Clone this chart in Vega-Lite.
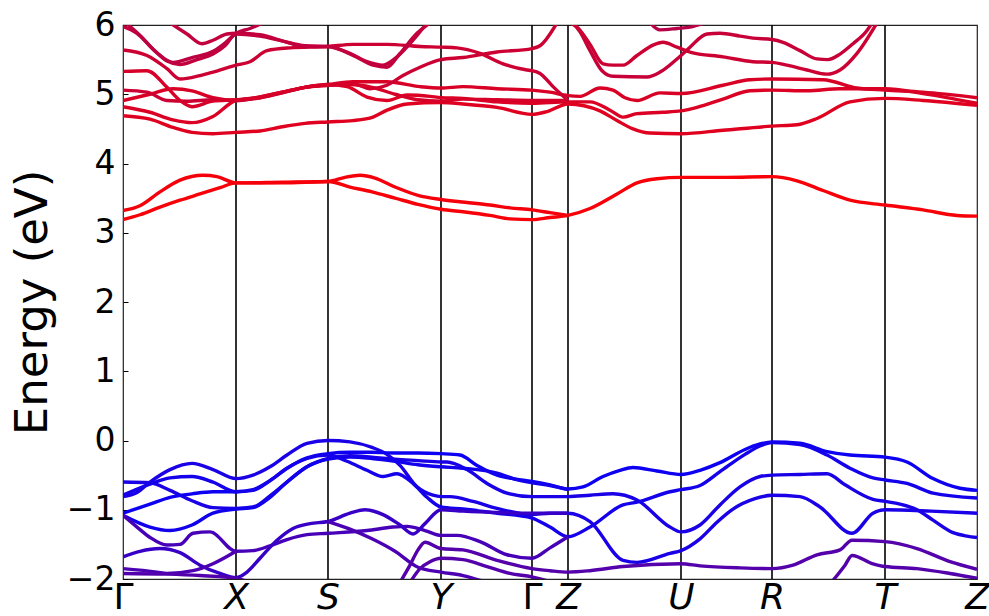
{
  "$schema": "https://vega.github.io/schema/vega-lite/v6.json",
  "width": 854,
  "height": 554,
  "autosize": {"type": "none"},
  "padding": {"left": 123, "top": 25, "right": 12, "bottom": 37},
  "background": "white",
  "config": {
    "view": {"stroke": "#222222", "strokeWidth": 1.2},
    "font": "DejaVu Sans"
  },
  "datasets": {
    "weights": [
      {"b": "C1", "w": 0.97}, {"b": "C2", "w": 0.96}, {"b": "A1", "w": 0.88}, {"b": "A2", "w": 0.86},
      {"b": "A3", "w": 0.85}, {"b": "A4", "w": 0.8}, {"b": "A5", "w": 0.84}, {"b": "A6", "w": 0.8},
      {"b": "A7", "w": 0.76}, {"b": "A8", "w": 0.74}, {"b": "A9", "w": 0.76}, {"b": "A10", "w": 0.78},
      {"b": "A11", "w": 0.8}, {"b": "A12", "w": 0.72},
      {"b": "V1", "w": 0.1}, {"b": "V2", "w": 0.1}, {"b": "V3", "w": 0.05}, {"b": "V4", "w": 0.08},
      {"b": "V5", "w": 0.07}, {"b": "V6", "w": 0.28}, {"b": "V7", "w": 0.22}, {"b": "V8", "w": 0.3},
      {"b": "V9", "w": 0.3}, {"b": "V10", "w": 0.33}, {"b": "V11", "w": 0.33}, {"b": "V12", "w": 0.32},
      {"b": "V13", "w": 0.33}
    ],
    "kpath": [
      {"k": 1.13, "point": "X"}, {"k": 2.05, "point": "S"}, {"k": 3.18, "point": "Y"},
      {"k": 4.09, "point": "Γ"}, {"k": 4.45, "point": "Z"}, {"k": 5.58, "point": "U"},
      {"k": 6.49, "point": "R"}, {"k": 7.62, "point": "T"}
    ],
    "bands": [
      {"b":"C1","k":0,"E":3.19},{"b":"C1","k":0.17,"E":3.26},{"b":"C1","k":0.37,"E":3.37},{"b":"C1","k":0.57,"E":3.47},{"b":"C1","k":0.77,"E":3.56},{"b":"C1","k":0.97,"E":3.65},{"b":"C1","k":1.13,"E":3.72},{"b":"C1","k":1.59,"E":3.72},{"b":"C1","k":2.05,"E":3.74},{"b":"C1","k":2.27,"E":3.66},{"b":"C1","k":2.49,"E":3.59},{"b":"C1","k":2.72,"E":3.5},{"b":"C1","k":2.95,"E":3.41},{"b":"C1","k":3.18,"E":3.34},{"b":"C1","k":3.42,"E":3.3},{"b":"C1","k":3.67,"E":3.25},{"b":"C1","k":3.87,"E":3.2},{"b":"C1","k":4.09,"E":3.19},{"b":"C1","k":4.27,"E":3.22},{"b":"C1","k":4.45,"E":3.25},{"b":"C1","k":4.67,"E":3.35},{"b":"C1","k":4.94,"E":3.56},{"b":"C1","k":5.14,"E":3.72},{"b":"C1","k":5.34,"E":3.78},{"b":"C1","k":5.58,"E":3.8},{"b":"C1","k":6.03,"E":3.8},{"b":"C1","k":6.49,"E":3.81},{"b":"C1","k":6.74,"E":3.75},{"b":"C1","k":7.0,"E":3.61},{"b":"C1","k":7.27,"E":3.47},{"b":"C1","k":7.62,"E":3.4},{"b":"C1","k":8.0,"E":3.33},{"b":"C1","k":8.34,"E":3.25},{"b":"C1","k":8.54,"E":3.24},
      {"b":"C2","k":0,"E":3.32},{"b":"C2","k":0.17,"E":3.39},{"b":"C2","k":0.37,"E":3.59},{"b":"C2","k":0.57,"E":3.76},{"b":"C2","k":0.8,"E":3.83},{"b":"C2","k":0.94,"E":3.81},{"b":"C2","k":1.13,"E":3.72},{"b":"C2","k":1.59,"E":3.73},{"b":"C2","k":2.05,"E":3.74},{"b":"C2","k":2.22,"E":3.8},{"b":"C2","k":2.37,"E":3.83},{"b":"C2","k":2.52,"E":3.79},{"b":"C2","k":2.72,"E":3.66},{"b":"C2","k":2.95,"E":3.54},{"b":"C2","k":3.18,"E":3.48},{"b":"C2","k":3.42,"E":3.44},{"b":"C2","k":3.67,"E":3.4},{"b":"C2","k":3.87,"E":3.36},{"b":"C2","k":4.09,"E":3.33},{"b":"C2","k":4.27,"E":3.29},{"b":"C2","k":4.45,"E":3.25},
      {"b":"A1","k":0,"E":4.69},{"b":"A1","k":0.27,"E":4.64},{"b":"A1","k":0.5,"E":4.52},{"b":"A1","k":0.69,"E":4.45},{"b":"A1","k":0.9,"E":4.43},{"b":"A1","k":1.13,"E":4.45},{"b":"A1","k":1.37,"E":4.47},{"b":"A1","k":1.59,"E":4.53},{"b":"A1","k":1.82,"E":4.58},{"b":"A1","k":2.05,"E":4.6},{"b":"A1","k":2.3,"E":4.62},{"b":"A1","k":2.5,"E":4.67},{"b":"A1","k":2.64,"E":4.77},{"b":"A1","k":2.84,"E":4.86},{"b":"A1","k":3.18,"E":4.88},{"b":"A1","k":3.4,"E":4.86},{"b":"A1","k":3.74,"E":4.81},{"b":"A1","k":4.09,"E":4.71},{"b":"A1","k":4.24,"E":4.75},{"b":"A1","k":4.45,"E":4.86},{"b":"A1","k":4.77,"E":4.76},{"b":"A1","k":4.94,"E":4.62},{"b":"A1","k":5.1,"E":4.5},{"b":"A1","k":5.27,"E":4.44},{"b":"A1","k":5.58,"E":4.43},{"b":"A1","k":6.0,"E":4.48},{"b":"A1","k":6.49,"E":4.54},{"b":"A1","k":6.74,"E":4.56},{"b":"A1","k":6.94,"E":4.65},{"b":"A1","k":7.27,"E":4.89},{"b":"A1","k":7.62,"E":4.94},{"b":"A1","k":8.0,"E":4.91},{"b":"A1","k":8.54,"E":4.84},
      {"b":"A2","k":0,"E":4.82},{"b":"A2","k":0.27,"E":4.74},{"b":"A2","k":0.5,"E":4.63},{"b":"A2","k":0.69,"E":4.59},{"b":"A2","k":0.9,"E":4.68},{"b":"A2","k":1.13,"E":4.91},{"b":"A2","k":1.37,"E":4.95},{"b":"A2","k":1.59,"E":5.02},{"b":"A2","k":1.82,"E":5.1},{"b":"A2","k":2.05,"E":5.14},{"b":"A2","k":2.24,"E":5.11},{"b":"A2","k":2.44,"E":4.96},{"b":"A2","k":2.64,"E":4.91},{"b":"A2","k":2.84,"E":4.99},{"b":"A2","k":3.07,"E":4.97},{"b":"A2","k":3.18,"E":4.95},{"b":"A2","k":3.4,"E":4.94},{"b":"A2","k":3.74,"E":4.89},{"b":"A2","k":4.09,"E":4.87},{"b":"A2","k":4.45,"E":4.89},{"b":"A2","k":4.67,"E":4.89},{"b":"A2","k":4.87,"E":4.77},{"b":"A2","k":5.0,"E":4.67},{"b":"A2","k":5.14,"E":4.72},{"b":"A2","k":5.4,"E":4.74},{"b":"A2","k":5.58,"E":4.76},{"b":"A2","k":5.74,"E":4.81},{"b":"A2","k":6.0,"E":4.93},{"b":"A2","k":6.27,"E":5.05},{"b":"A2","k":6.49,"E":5.06},{"b":"A2","k":6.84,"E":5.05},{"b":"A2","k":7.17,"E":5.08},{"b":"A2","k":7.62,"E":5.08},{"b":"A2","k":8.0,"E":5.01},{"b":"A2","k":8.54,"E":4.87},
      {"b":"A3","k":0,"E":4.91},{"b":"A3","k":0.27,"E":5.0},{"b":"A3","k":0.5,"E":5.08},{"b":"A3","k":0.69,"E":5.05},{"b":"A3","k":0.9,"E":4.95},{"b":"A3","k":1.13,"E":4.91},{"b":"A3","k":1.37,"E":4.96},{"b":"A3","k":1.59,"E":5.03},{"b":"A3","k":1.82,"E":5.1},{"b":"A3","k":2.05,"E":5.14},{"b":"A3","k":2.3,"E":5.18},{"b":"A3","k":2.64,"E":5.18},{"b":"A3","k":2.97,"E":5.11},{"b":"A3","k":3.18,"E":5.09},{"b":"A3","k":3.4,"E":5.11},{"b":"A3","k":3.74,"E":5.08},{"b":"A3","k":4.09,"E":5.06},{"b":"A3","k":4.27,"E":5.03},{"b":"A3","k":4.45,"E":4.98},{"b":"A3","k":4.57,"E":4.97},{"b":"A3","k":4.77,"E":5.09},{"b":"A3","k":4.9,"E":5.06},{"b":"A3","k":5.02,"E":4.95},{"b":"A3","k":5.14,"E":4.91},{"b":"A3","k":5.37,"E":5.02},{"b":"A3","k":5.58,"E":5.01},{"b":"A3","k":6.0,"E":5.13},{"b":"A3","k":6.27,"E":5.21},{"b":"A3","k":6.49,"E":5.22},{"b":"A3","k":7.0,"E":5.21},{"b":"A3","k":7.34,"E":5.09},{"b":"A3","k":7.62,"E":5.06},{"b":"A3","k":8.0,"E":5.03},{"b":"A3","k":8.54,"E":4.95},
      {"b":"A4","k":0,"E":5.06},{"b":"A4","k":0.24,"E":5.03},{"b":"A4","k":0.44,"E":4.91},{"b":"A4","k":0.64,"E":4.9},{"b":"A4","k":0.9,"E":4.92},{"b":"A4","k":1.13,"E":4.91},{"b":"A4","k":1.37,"E":4.95},{"b":"A4","k":1.59,"E":5.02},{"b":"A4","k":1.82,"E":5.1},{"b":"A4","k":2.05,"E":5.13},{"b":"A4","k":2.3,"E":5.15},{"b":"A4","k":2.47,"E":5.08},{"b":"A4","k":2.64,"E":5.13},{"b":"A4","k":2.8,"E":5.27},{"b":"A4","k":2.97,"E":5.39},{"b":"A4","k":3.18,"E":5.5},{"b":"A4","k":3.4,"E":5.53},{"b":"A4","k":3.74,"E":5.61},{"b":"A4","k":4.09,"E":5.66},{"b":"A4","k":4.17,"E":5.7},{"b":"A4","k":4.34,"E":6.03},
      {"b":"A5","k":0,"E":5.33},{"b":"A5","k":0.24,"E":5.34},{"b":"A5","k":0.44,"E":5.1},{"b":"A5","k":0.57,"E":4.91},{"b":"A5","k":0.69,"E":4.82},{"b":"A5","k":0.9,"E":4.9},{"b":"A5","k":1.13,"E":4.92},{"b":"A5","k":1.37,"E":4.96},{"b":"A5","k":1.59,"E":5.03},{"b":"A5","k":1.82,"E":5.1},{"b":"A5","k":2.05,"E":5.13},{"b":"A5","k":2.27,"E":5.14},{"b":"A5","k":2.49,"E":5.1},{"b":"A5","k":2.72,"E":5.0},{"b":"A5","k":2.95,"E":4.92},{"b":"A5","k":3.18,"E":4.9},{"b":"A5","k":3.4,"E":4.93},{"b":"A5","k":3.74,"E":4.92},{"b":"A5","k":4.09,"E":4.91},{"b":"A5","k":4.45,"E":4.91},
      {"b":"A6","k":0,"E":5.64},{"b":"A6","k":0.24,"E":5.56},{"b":"A6","k":0.44,"E":5.37},{"b":"A6","k":0.57,"E":5.22},{"b":"A6","k":0.77,"E":5.27},{"b":"A6","k":0.9,"E":5.32},{"b":"A6","k":1.13,"E":5.42},{"b":"A6","k":1.27,"E":5.47},{"b":"A6","k":1.44,"E":5.63},{"b":"A6","k":1.67,"E":5.67},{"b":"A6","k":2.05,"E":5.69},{"b":"A6","k":2.3,"E":5.72},{"b":"A6","k":2.64,"E":5.72},{"b":"A6","k":2.97,"E":5.69},{"b":"A6","k":3.18,"E":5.68},{"b":"A6","k":3.34,"E":5.67},{"b":"A6","k":3.57,"E":5.59},{"b":"A6","k":3.8,"E":5.44},{"b":"A6","k":4.04,"E":5.35},{"b":"A6","k":4.09,"E":5.34},{"b":"A6","k":4.17,"E":5.3},{"b":"A6","k":4.3,"E":5.11},{"b":"A6","k":4.45,"E":4.91},
      {"b":"A7","k":0,"E":5.98},{"b":"A7","k":0.14,"E":5.88},{"b":"A7","k":0.3,"E":5.65},{"b":"A7","k":0.44,"E":5.48},{"b":"A7","k":0.57,"E":5.43},{"b":"A7","k":0.74,"E":5.5},{"b":"A7","k":0.9,"E":5.58},{"b":"A7","k":1.02,"E":5.7},{"b":"A7","k":1.13,"E":5.87},{"b":"A7","k":1.37,"E":5.84},{"b":"A7","k":1.59,"E":5.77},{"b":"A7","k":1.82,"E":5.7},{"b":"A7","k":2.05,"E":5.69},{"b":"A7","k":2.24,"E":5.61},{"b":"A7","k":2.44,"E":5.47},{"b":"A7","k":2.6,"E":5.42},{"b":"A7","k":2.74,"E":5.54},{"b":"A7","k":2.9,"E":5.78},{"b":"A7","k":3.04,"E":6.03},
      {"b":"A8","k":0.03,"E":6.03},{"b":"A8","k":0.17,"E":5.85},{"b":"A8","k":0.34,"E":5.6},{"b":"A8","k":0.5,"E":5.46},{"b":"A8","k":0.69,"E":5.53},{"b":"A8","k":0.9,"E":5.62},{"b":"A8","k":1.02,"E":5.74},{"b":"A8","k":1.13,"E":5.88},{"b":"A8","k":1.27,"E":5.95},{"b":"A8","k":1.4,"E":6.03},
      {"b":"A9","k":0.47,"E":6.03},{"b":"A9","k":0.64,"E":5.87},{"b":"A9","k":0.79,"E":5.73},{"b":"A9","k":0.9,"E":5.78},{"b":"A9","k":1.04,"E":5.87},{"b":"A9","k":1.13,"E":5.88},{"b":"A9","k":1.37,"E":5.86},{"b":"A9","k":1.64,"E":5.75},{"b":"A9","k":1.84,"E":5.69},{"b":"A9","k":2.05,"E":5.69},{"b":"A9","k":2.3,"E":5.56},{"b":"A9","k":2.5,"E":5.42},{"b":"A9","k":2.64,"E":5.39},{"b":"A9","k":2.77,"E":5.59},{"b":"A9","k":2.94,"E":5.88},{"b":"A9","k":3.07,"E":6.03},
      {"b":"A10","k":4.5,"E":6.03},{"b":"A10","k":4.57,"E":5.9},{"b":"A10","k":4.67,"E":5.63},{"b":"A10","k":4.79,"E":5.34},{"b":"A10","k":4.9,"E":5.26},{"b":"A10","k":5.24,"E":5.25},{"b":"A10","k":5.37,"E":5.32},{"b":"A10","k":5.54,"E":5.51},{"b":"A10","k":5.58,"E":5.56},{"b":"A10","k":5.67,"E":5.68},{"b":"A10","k":5.84,"E":5.87},{"b":"A10","k":5.97,"E":5.88},{"b":"A10","k":6.17,"E":5.84},{"b":"A10","k":6.3,"E":5.81},{"b":"A10","k":6.49,"E":5.79},{"b":"A10","k":6.6,"E":5.75},{"b":"A10","k":6.77,"E":5.63},{"b":"A10","k":6.94,"E":5.51},{"b":"A10","k":7.05,"E":5.5},{"b":"A10","k":7.17,"E":5.58},{"b":"A10","k":7.3,"E":5.73},{"b":"A10","k":7.44,"E":5.92},{"b":"A10","k":7.49,"E":6.03},
      {"b":"A11","k":4.47,"E":6.03},{"b":"A11","k":4.54,"E":5.97},{"b":"A11","k":4.67,"E":5.72},{"b":"A11","k":4.8,"E":5.44},{"b":"A11","k":4.9,"E":5.42},{"b":"A11","k":5.0,"E":5.42},{"b":"A11","k":5.14,"E":5.56},{"b":"A11","k":5.3,"E":5.71},{"b":"A11","k":5.4,"E":5.75},{"b":"A11","k":5.54,"E":5.68},{"b":"A11","k":5.67,"E":5.61},{"b":"A11","k":6.0,"E":5.54},{"b":"A11","k":6.3,"E":5.47},{"b":"A11","k":6.49,"E":5.46},{"b":"A11","k":6.64,"E":5.42},{"b":"A11","k":6.84,"E":5.35},{"b":"A11","k":7.04,"E":5.29},{"b":"A11","k":7.17,"E":5.35},{"b":"A11","k":7.34,"E":5.59},{"b":"A11","k":7.54,"E":6.03},
      {"b":"A12","k":5.27,"E":6.03},{"b":"A12","k":5.37,"E":5.93},{"b":"A12","k":5.54,"E":5.95},{"b":"A12","k":5.67,"E":5.97},{"b":"A12","k":5.82,"E":6.03},
      {"b":"V1","k":0,"E":-0.81},{"b":"V1","k":0.14,"E":-0.75},{"b":"V1","k":0.27,"E":-0.6},{"b":"V1","k":0.47,"E":-0.42},{"b":"V1","k":0.69,"E":-0.33},{"b":"V1","k":0.9,"E":-0.42},{"b":"V1","k":1.13,"E":-0.55},{"b":"V1","k":1.3,"E":-0.5},{"b":"V1","k":1.47,"E":-0.38},{"b":"V1","k":1.64,"E":-0.21},{"b":"V1","k":1.84,"E":-0.04},{"b":"V1","k":2.05,"E":0.0},{"b":"V1","k":2.27,"E":-0.02},{"b":"V1","k":2.49,"E":-0.1},{"b":"V1","k":2.64,"E":-0.2},{"b":"V1","k":2.77,"E":-0.36},{"b":"V1","k":2.94,"E":-0.67},{"b":"V1","k":3.1,"E":-0.79},{"b":"V1","k":3.18,"E":-0.81},{"b":"V1","k":3.27,"E":-0.81},{"b":"V1","k":3.5,"E":-0.88},{"b":"V1","k":3.74,"E":-0.98},{"b":"V1","k":4.09,"E":-1.07},{"b":"V1","k":4.27,"E":-1.05},{"b":"V1","k":4.45,"E":-1.05},{"b":"V1","k":4.67,"E":-1.17},{"b":"V1","k":5.0,"E":-1.73},{"b":"V1","k":5.14,"E":-1.76},{"b":"V1","k":5.47,"E":-1.63},{"b":"V1","k":5.58,"E":-1.59},{"b":"V1","k":5.77,"E":-1.42},{"b":"V1","k":5.94,"E":-1.18},{"b":"V1","k":6.1,"E":-0.99},{"b":"V1","k":6.32,"E":-0.84},{"b":"V1","k":6.49,"E":-0.79},{"b":"V1","k":6.77,"E":-0.81},{"b":"V1","k":6.97,"E":-0.96},{"b":"V1","k":7.29,"E":-1.34},{"b":"V1","k":7.5,"E":-1.05},{"b":"V1","k":7.62,"E":-1.0},{"b":"V1","k":8.08,"E":-1.02},{"b":"V1","k":8.54,"E":-1.05},
      {"b":"V2","k":0,"E":-0.6},{"b":"V2","k":0.27,"E":-0.61},{"b":"V2","k":0.47,"E":-0.72},{"b":"V2","k":0.69,"E":-0.87},{"b":"V2","k":0.9,"E":-0.97},{"b":"V2","k":1.13,"E":-0.98},{"b":"V2","k":1.3,"E":-0.96},{"b":"V2","k":1.47,"E":-0.8},{"b":"V2","k":1.64,"E":-0.6},{"b":"V2","k":1.84,"E":-0.38},{"b":"V2","k":2.05,"E":-0.26},{"b":"V2","k":2.27,"E":-0.22},{"b":"V2","k":2.49,"E":-0.24},{"b":"V2","k":2.72,"E":-0.27},{"b":"V2","k":2.95,"E":-0.29},{"b":"V2","k":3.18,"E":-0.31},{"b":"V2","k":3.24,"E":-0.31},{"b":"V2","k":3.44,"E":-0.42},{"b":"V2","k":3.64,"E":-0.62},{"b":"V2","k":3.84,"E":-0.76},{"b":"V2","k":4.09,"E":-0.81},{"b":"V2","k":4.45,"E":-0.81},{"b":"V2","k":4.67,"E":-0.79},{"b":"V2","k":4.9,"E":-0.77},{"b":"V2","k":5.14,"E":-0.86},{"b":"V2","k":5.47,"E":-1.25},{"b":"V2","k":5.58,"E":-1.32},{"b":"V2","k":5.77,"E":-1.22},{"b":"V2","k":5.97,"E":-0.93},{"b":"V2","k":6.17,"E":-0.67},{"b":"V2","k":6.37,"E":-0.52},{"b":"V2","k":6.49,"E":-0.5},{"b":"V2","k":6.77,"E":-0.49},{"b":"V2","k":7.04,"E":-0.48},{"b":"V2","k":7.22,"E":-0.64},{"b":"V2","k":7.5,"E":-0.85},{"b":"V2","k":7.62,"E":-0.88},{"b":"V2","k":7.77,"E":-0.92},{"b":"V2","k":7.94,"E":-1.0},{"b":"V2","k":8.1,"E":-1.15},{"b":"V2","k":8.3,"E":-1.33},{"b":"V2","k":8.44,"E":-1.38},{"b":"V2","k":8.54,"E":-1.4},
      {"b":"V3","k":0,"E":-1.05},{"b":"V3","k":0.27,"E":-0.92},{"b":"V3","k":0.47,"E":-0.82},{"b":"V3","k":0.69,"E":-0.77},{"b":"V3","k":0.9,"E":-0.74},{"b":"V3","k":1.13,"E":-0.74},{"b":"V3","k":1.3,"E":-0.71},{"b":"V3","k":1.47,"E":-0.58},{"b":"V3","k":1.64,"E":-0.4},{"b":"V3","k":1.84,"E":-0.25},{"b":"V3","k":2.05,"E":-0.19},{"b":"V3","k":2.27,"E":-0.17},{"b":"V3","k":2.49,"E":-0.17},{"b":"V3","k":2.72,"E":-0.18},{"b":"V3","k":2.95,"E":-0.18},{"b":"V3","k":3.18,"E":-0.19},{"b":"V3","k":3.37,"E":-0.21},{"b":"V3","k":3.54,"E":-0.36},{"b":"V3","k":3.74,"E":-0.5},{"b":"V3","k":3.9,"E":-0.55},{"b":"V3","k":4.09,"E":-0.59},{"b":"V3","k":4.27,"E":-0.64},{"b":"V3","k":4.45,"E":-0.7},{"b":"V3","k":4.6,"E":-0.67},{"b":"V3","k":4.8,"E":-0.52},{"b":"V3","k":4.97,"E":-0.43},{"b":"V3","k":5.1,"E":-0.39},{"b":"V3","k":5.34,"E":-0.44},{"b":"V3","k":5.58,"E":-0.49},{"b":"V3","k":5.77,"E":-0.43},{"b":"V3","k":5.97,"E":-0.32},{"b":"V3","k":6.22,"E":-0.13},{"b":"V3","k":6.37,"E":-0.05},{"b":"V3","k":6.49,"E":-0.02},{"b":"V3","k":6.77,"E":-0.04},{"b":"V3","k":7.04,"E":-0.16},{"b":"V3","k":7.27,"E":-0.21},{"b":"V3","k":7.62,"E":-0.24},{"b":"V3","k":7.84,"E":-0.31},{"b":"V3","k":8.1,"E":-0.55},{"b":"V3","k":8.37,"E":-0.69},{"b":"V3","k":8.54,"E":-0.72},
      {"b":"V4","k":0,"E":-0.79},{"b":"V4","k":0.27,"E":-0.63},{"b":"V4","k":0.47,"E":-0.54},{"b":"V4","k":0.69,"E":-0.52},{"b":"V4","k":0.9,"E":-0.6},{"b":"V4","k":1.13,"E":-0.74},{"b":"V4","k":1.3,"E":-0.72},{"b":"V4","k":1.47,"E":-0.58},{"b":"V4","k":1.64,"E":-0.4},{"b":"V4","k":1.84,"E":-0.26},{"b":"V4","k":2.05,"E":-0.21},{"b":"V4","k":2.24,"E":-0.3},{"b":"V4","k":2.44,"E":-0.43},{"b":"V4","k":2.6,"E":-0.52},{"b":"V4","k":2.74,"E":-0.48},{"b":"V4","k":2.9,"E":-0.62},{"b":"V4","k":3.04,"E":-0.82},{"b":"V4","k":3.18,"E":-0.96},{"b":"V4","k":3.4,"E":-0.99},{"b":"V4","k":3.74,"E":-1.05},{"b":"V4","k":4.09,"E":-1.12},{"b":"V4","k":4.27,"E":-1.25},{"b":"V4","k":4.45,"E":-1.39},{"b":"V4","k":4.67,"E":-1.25},{"b":"V4","k":5.0,"E":-0.93},{"b":"V4","k":5.14,"E":-0.89},{"b":"V4","k":5.47,"E":-0.74},{"b":"V4","k":5.58,"E":-0.71},{"b":"V4","k":5.77,"E":-0.65},{"b":"V4","k":5.97,"E":-0.45},{"b":"V4","k":6.22,"E":-0.2},{"b":"V4","k":6.37,"E":-0.08},{"b":"V4","k":6.49,"E":-0.03},{"b":"V4","k":6.77,"E":-0.06},{"b":"V4","k":7.04,"E":-0.21},{"b":"V4","k":7.27,"E":-0.4},{"b":"V4","k":7.5,"E":-0.54},{"b":"V4","k":7.62,"E":-0.57},{"b":"V4","k":7.84,"E":-0.62},{"b":"V4","k":8.1,"E":-0.76},{"b":"V4","k":8.54,"E":-0.83},
      {"b":"V5","k":0,"E":-1.08},{"b":"V5","k":0.27,"E":-1.25},{"b":"V5","k":0.47,"E":-1.3},{"b":"V5","k":0.69,"E":-1.22},{"b":"V5","k":0.9,"E":-1.05},{"b":"V5","k":1.13,"E":-0.99},{"b":"V5","k":1.3,"E":-0.97},{"b":"V5","k":1.47,"E":-0.82},{"b":"V5","k":1.64,"E":-0.6},{"b":"V5","k":1.84,"E":-0.38},{"b":"V5","k":2.05,"E":-0.27},{"b":"V5","k":2.27,"E":-0.24},{"b":"V5","k":2.49,"E":-0.26},{"b":"V5","k":2.72,"E":-0.3},{"b":"V5","k":2.95,"E":-0.35},{"b":"V5","k":3.18,"E":-0.38},{"b":"V5","k":3.4,"E":-0.4},{"b":"V5","k":3.74,"E":-0.47},{"b":"V5","k":3.9,"E":-0.55},{"b":"V5","k":4.09,"E":-0.61},{"b":"V5","k":4.27,"E":-0.65},{"b":"V5","k":4.45,"E":-0.71},
      {"b":"V6","k":0,"E":-1.08},{"b":"V6","k":0.14,"E":-1.25},{"b":"V6","k":0.27,"E":-1.4},{"b":"V6","k":0.44,"E":-1.51},{"b":"V6","k":0.57,"E":-1.5},{"b":"V6","k":0.7,"E":-1.34},{"b":"V6","k":0.87,"E":-1.32},{"b":"V6","k":1.13,"E":-1.6},{"b":"V6","k":1.3,"E":-1.59},{"b":"V6","k":1.47,"E":-1.52},{"b":"V6","k":1.64,"E":-1.43},{"b":"V6","k":1.84,"E":-1.36},{"b":"V6","k":2.05,"E":-1.34},{"b":"V6","k":2.44,"E":-1.3},{"b":"V6","k":2.7,"E":-1.25},{"b":"V6","k":2.84,"E":-1.24},{"b":"V6","k":3.02,"E":-1.3},{"b":"V6","k":3.18,"E":-1.37},{"b":"V6","k":3.34,"E":-1.37},{"b":"V6","k":3.57,"E":-1.46},{"b":"V6","k":3.84,"E":-1.65},{"b":"V6","k":4.09,"E":-1.7},{"b":"V6","k":4.27,"E":-1.55},{"b":"V6","k":4.45,"E":-1.39},
      {"b":"V7","k":0,"E":-1.68},{"b":"V7","k":0.17,"E":-1.6},{"b":"V7","k":0.37,"E":-1.56},{"b":"V7","k":0.57,"E":-1.62},{"b":"V7","k":0.77,"E":-1.8},{"b":"V7","k":0.97,"E":-1.92},{"b":"V7","k":1.13,"E":-1.98},{"b":"V7","k":1.24,"E":-1.9},{"b":"V7","k":1.37,"E":-1.7},{"b":"V7","k":1.54,"E":-1.44},{"b":"V7","k":1.7,"E":-1.27},{"b":"V7","k":1.87,"E":-1.2},{"b":"V7","k":2.05,"E":-1.17},{"b":"V7","k":2.27,"E":-1.05},{"b":"V7","k":2.42,"E":-1.0},{"b":"V7","k":2.6,"E":-1.07},{"b":"V7","k":2.77,"E":-1.22},{"b":"V7","k":2.9,"E":-1.35},{"b":"V7","k":3.02,"E":-1.2},{"b":"V7","k":3.18,"E":-1.0},{"b":"V7","k":3.4,"E":-1.02},{"b":"V7","k":3.74,"E":-1.04},{"b":"V7","k":4.09,"E":-1.05},{"b":"V7","k":4.45,"E":-1.05},
      {"b":"V8","k":0,"E":-1.85},{"b":"V8","k":0.34,"E":-1.9},{"b":"V8","k":0.44,"E":-1.92},{"b":"V8","k":0.7,"E":-1.88},{"b":"V8","k":0.9,"E":-1.78},{"b":"V8","k":1.13,"E":-1.6},
      {"b":"V9","k":2.05,"E":-1.17},{"b":"V9","k":2.27,"E":-1.28},{"b":"V9","k":2.49,"E":-1.42},{"b":"V9","k":2.72,"E":-1.6},{"b":"V9","k":2.95,"E":-1.83},{"b":"V9","k":3.18,"E":-1.9},{"b":"V9","k":3.4,"E":-1.95},{"b":"V9","k":3.64,"E":-2.05},
      {"b":"V10","k":2.77,"E":-2.05},{"b":"V10","k":2.87,"E":-1.8},{"b":"V10","k":2.95,"E":-1.58},{"b":"V10","k":3.02,"E":-1.47},{"b":"V10","k":3.18,"E":-1.56},{"b":"V10","k":3.4,"E":-1.58},{"b":"V10","k":3.74,"E":-1.73},{"b":"V10","k":4.09,"E":-1.85},{"b":"V10","k":4.27,"E":-1.88},{"b":"V10","k":4.45,"E":-1.9},{"b":"V10","k":4.67,"E":-1.88},{"b":"V10","k":5.0,"E":-1.82},{"b":"V10","k":5.58,"E":-1.78},{"b":"V10","k":5.77,"E":-1.81},{"b":"V10","k":6.17,"E":-1.84},{"b":"V10","k":6.49,"E":-1.85},{"b":"V10","k":6.7,"E":-1.8},{"b":"V10","k":6.94,"E":-1.65},{"b":"V10","k":7.17,"E":-1.58},{"b":"V10","k":7.29,"E":-1.44},{"b":"V10","k":7.62,"E":-1.46},{"b":"V10","k":7.94,"E":-1.56},{"b":"V10","k":8.27,"E":-1.75},{"b":"V10","k":8.54,"E":-1.86},
      {"b":"V11","k":2.87,"E":-2.05},{"b":"V11","k":2.97,"E":-1.85},{"b":"V11","k":3.07,"E":-1.75},{"b":"V11","k":3.18,"E":-1.7},{"b":"V11","k":3.4,"E":-1.72},{"b":"V11","k":3.64,"E":-1.82},{"b":"V11","k":3.87,"E":-1.92},{"b":"V11","k":4.09,"E":-1.97},{"b":"V11","k":4.3,"E":-2.05},
      {"b":"V12","k":0,"E":-1.92},{"b":"V12","k":0.44,"E":-1.93},{"b":"V12","k":0.77,"E":-1.95},{"b":"V12","k":1.13,"E":-1.99},{"b":"V12","k":1.27,"E":-2.05},
      {"b":"V13","k":7.1,"E":-2.02},{"b":"V13","k":7.22,"E":-1.8},{"b":"V13","k":7.29,"E":-1.66},{"b":"V13","k":7.5,"E":-1.78},{"b":"V13","k":7.62,"E":-1.82},{"b":"V13","k":7.94,"E":-1.85},{"b":"V13","k":8.27,"E":-1.92},{"b":"V13","k":8.54,"E":-1.99}
    ]
  },
  "layer": [
    {
      "data": {"name": "kpath"},
      "mark": {"type": "rule", "color": "black", "strokeWidth": 1.6},
      "encoding": {
        "x": {"field": "k", "type": "quantitative", "scale": {"domain": [0, 8.54], "nice": false, "zero": false}}
      }
    },
    {
      "data": {"name": "bands"},
      "transform": [
        {"lookup": "b", "from": {"data": {"name": "weights"}, "key": "b", "fields": ["w"]}}
      ],
      "mark": {"type": "line", "strokeWidth": 3.4, "interpolate": "monotone", "clip": true},
      "encoding": {
        "x": {
          "field": "k", "type": "quantitative",
          "scale": {"domain": [0, 8.54], "nice": false, "zero": false},
          "axis": {
            "values": [0, 1.13, 2.05, 3.18, 4.09, 4.45, 5.58, 6.49, 7.62, 8.54],
            "labelExpr": "datum.value == 0 ? 'Γ' : datum.value == 1.13 ? 'X' : datum.value == 2.05 ? 'S' : datum.value == 3.18 ? 'Y' : datum.value == 4.09 ? 'Γ' : datum.value == 4.45 ? 'Z' : datum.value == 5.58 ? 'U' : datum.value == 6.49 ? 'R' : datum.value == 7.62 ? 'T' : 'Z'",
            "labelFontStyle": {"condition": {"test": "datum.value == 0 || datum.value == 4.09", "value": "normal"}, "value": "italic"},
            "labelFont": "DejaVu Sans",
            "labelFontSize": 36,
            "labelColor": "black",
            "labelPadding": 1,
            "labelFlush": false,
            "labelOverlap": false,
            "ticks": false,
            "domain": false,
            "grid": false,
            "title": null
          }
        },
        "y": {
          "field": "E", "type": "quantitative",
          "scale": {"domain": [-2, 6], "nice": false, "zero": false},
          "axis": {
            "values": [-2, -1, 0, 1, 2, 3, 4, 5, 6],
            "labelExpr": "datum.value < 0 ? '−' + abs(datum.value) : '' + datum.value",
            "labelFont": "DejaVu Sans",
            "labelFontSize": 33,
            "labelColor": "black",
            "labelPadding": 13,
            "tickSize": -5,
            "tickColor": "black",
            "tickWidth": 1,
            "domain": false,
            "grid": false,
            "title": "Energy (eV)",
            "titleFont": "DejaVu Sans",
            "titleFontSize": 45,
            "titleFontWeight": "normal",
            "titleColor": "black",
            "titleAngle": -90,
            "titleAlign": "center",
            "titleBaseline": "middle",
            "titleX": -91,
            "titleY": 277
          }
        },
        "color": {
          "field": "w", "type": "quantitative",
          "scale": {"domain": [0, 1], "range": ["#0000ff", "#ff0000"], "interpolate": "rgb"},
          "legend": null
        },
        "detail": {"field": "b"}
      }
    }
  ]
}
